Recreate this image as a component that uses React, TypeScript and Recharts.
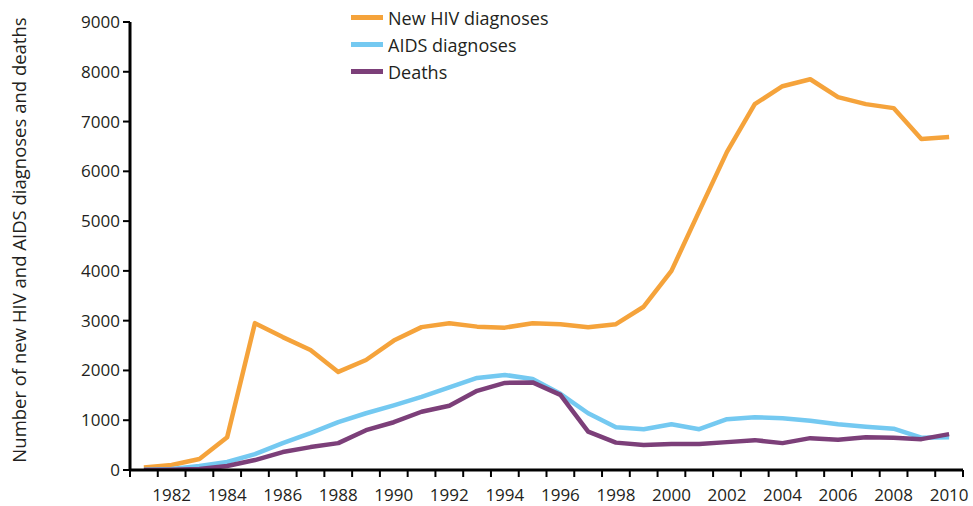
import { LineChart, Line, XAxis, YAxis, Legend } from 'recharts'

// Annual counts
const years = [
  1981, 1982, 1983, 1984, 1985, 1986, 1987, 1988, 1989, 1990,
  1991, 1992, 1993, 1994, 1995, 1996, 1997, 1998, 1999, 2000,
  2001, 2002, 2003, 2004, 2005, 2006, 2007, 2008, 2009, 2010,
]
const newHiv = [
  50, 100, 220, 660, 2950, 2670, 2410, 1970, 2210, 2600,
  2870, 2950, 2880, 2860, 2950, 2930, 2870, 2930, 3280, 4000,
  5200, 6390, 7350, 7710, 7850, 7490, 7350, 7270, 6650, 6690,
]
const aids = [
  5, 20, 80, 160, 320, 540, 740, 960, 1140, 1300,
  1470, 1660, 1850, 1910, 1830, 1530, 1140, 860, 820, 920,
  820, 1020, 1060, 1040, 990, 920, 870, 830, 650, 660,
]
const deaths = [
  0, 5, 20, 80, 200, 360, 460, 540, 800, 960,
  1170, 1290, 1590, 1750, 1760, 1510, 770, 550, 500, 520,
  520, 560, 600, 540, 640, 610, 660, 650, 620, 720,
]

const yTicks = [0, 1000, 2000, 3000, 4000, 5000, 6000, 7000, 8000, 9000]
const labelYears = [1982, 1984, 1986, 1988, 1990, 1992, 1994, 1996, 1998, 2000, 2002, 2004, 2006, 2008, 2010]

const series = [
  { key: 'newHiv', name: 'New HIV diagnoses', color: '#F5A33B' },
  { key: 'aids', name: 'AIDS diagnoses', color: '#74C9F1' },
  { key: 'deaths', name: 'Deaths', color: '#7C3F79' },
]

const data = years.map((year, i) => ({
  year,
  newHiv: newHiv[i],
  aids: aids[i],
  deaths: deaths[i],
}))

// tick marks sit on the year boundaries, labels on the year centres
const yearEdges = [...years.map((y) => y - 0.5), years[years.length - 1] + 0.5]
const xDomain = [yearEdges[0], yearEdges[yearEdges.length - 1]]

const FONT = '"Open Sans", "Noto Sans", sans-serif'
const TEXT = '#231f20'

function LegendRows() {
  return (
    <div style={{ fontFamily: FONT, fontSize: 18, color: TEXT }}>
      {series.map((s) => (
        <div key={s.key} style={{ display: 'flex', alignItems: 'center', height: 27 }}>
          <span style={{ display: 'inline-block', width: 32, height: 5, background: s.color, marginRight: 5 }} />
          <span>{s.name}</span>
        </div>
      ))}
    </div>
  )
}

function YTitle({ viewBox }: any) {
  const cx = viewBox.x + 18
  const cy = viewBox.y + viewBox.height / 2 - 6
  return (
    <text
      x={cx}
      y={cy}
      transform={`rotate(-90 ${cx} ${cy})`}
      textAnchor="middle"
      dominantBaseline="central"
      fontFamily={FONT}
      fontSize={18.5}
      fill={TEXT}
    >
      Number of new HIV and AIDS diagnoses and deaths
    </text>
  )
}

export default function App() {
  return (
    <div style={{ position: 'absolute', left: 0, top: 0, background: '#fff' }}>
      <LineChart width={973} height={506} data={data} margin={{ top: 22, right: 10, bottom: 0, left: 0 }}>
        <XAxis
          dataKey="year"
          type="number"
          domain={xDomain}
          ticks={yearEdges}
          interval={0}
          tick={() => <g />}
          tickSize={7}
          height={8}
          axisLine={{ stroke: '#000', strokeWidth: 3 }}
          tickLine={{ stroke: '#000', strokeWidth: 2 }}
          allowDataOverflow
        />
        <XAxis
          xAxisId="labels"
          dataKey="year"
          type="number"
          domain={xDomain}
          ticks={labelYears}
          interval={0}
          axisLine={false}
          tickLine={false}
          height={28}
          tickMargin={5}
          allowDataOverflow
          tick={{ fontFamily: FONT, fontSize: 17, fill: TEXT }}
        />
        <YAxis
          width={130}
          domain={[0, 9000]}
          ticks={yTicks}
          interval={0}
          tickSize={7}
          tickMargin={3}
          axisLine={{ stroke: '#000', strokeWidth: 3 }}
          tickLine={{ stroke: '#000', strokeWidth: 2 }}
          tick={{ fontFamily: FONT, fontSize: 17, fill: TEXT }}
          label={<YTitle />}
          allowDataOverflow
        />
        <Legend
          layout="horizontal"
          verticalAlign="middle"
          align="center"
          content={() => <LegendRows />}
          wrapperStyle={{ position: 'absolute', top: 4, left: 351, width: 260 }}
        />
        {/* invisible series so the label axis has data to scale against */}
        <Line
          xAxisId="labels"
          dataKey="newHiv"
          stroke="none"
          dot={false}
          activeDot={false}
          legendType="none"
          isAnimationActive={false}
        />
        {series.map((s) => (
          <Line
            key={s.key}
            dataKey={s.key}
            name={s.name}
            stroke={s.color}
            strokeWidth={4.5}
            dot={false}
            activeDot={false}
            strokeLinejoin="round"
            isAnimationActive={false}
          />
        ))}
      </LineChart>
    </div>
  )
}
